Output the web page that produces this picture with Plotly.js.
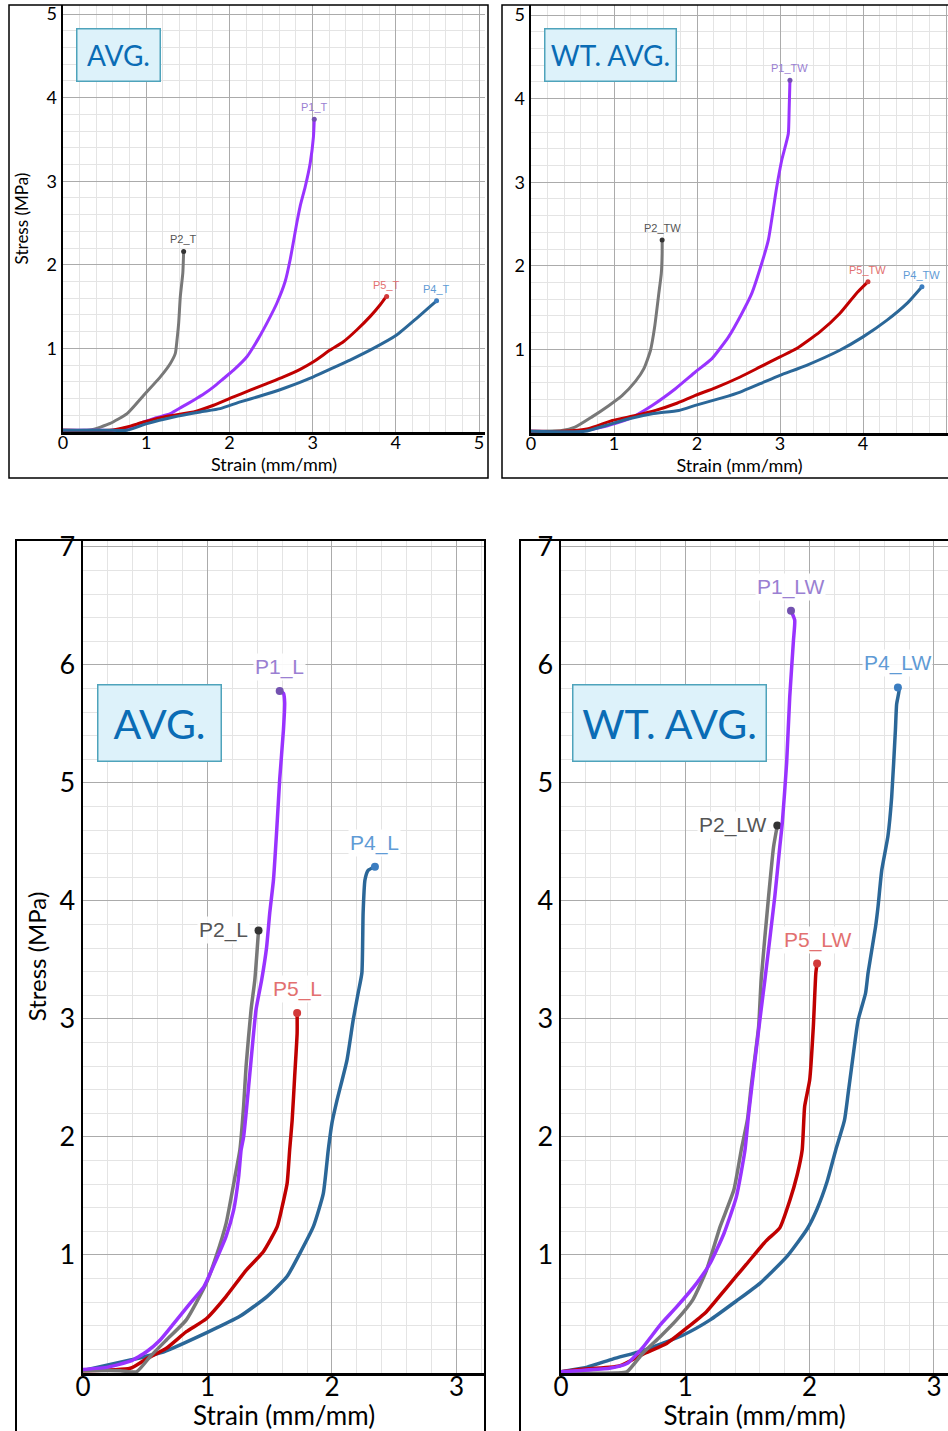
<!DOCTYPE html>
<html><head><meta charset="utf-8">
<script src="https://cdn.plot.ly/plotly-3.0.1.min.js"></script>
<style>html,body{margin:0;padding:0;background:#fff}#c{width:948px;height:1431px}</style>
</head><body><div id="c"></div>
<script>
// ---------- DATA: Transverse, average (top-left) ----------
const p1T_x = [0, 0.45, 0.60, 0.80, 0.97, 1.12, 1.29, 1.43, 1.57, 1.70, 1.81, 1.93, 2.05, 2.21, 2.35, 2.46, 2.57, 2.67, 2.73, 2.81, 2.85, 2.91, 2.97, 3.01, 3.02];
const p1T_y = [0.02, 0.02, 0.02, 0.06, 0.12, 0.17, 0.22, 0.30, 0.38, 0.46, 0.54, 0.64, 0.74, 0.90, 1.12, 1.32, 1.54, 1.80, 2.06, 2.50, 2.70, 2.93, 3.21, 3.53, 3.74];
const p2T_x = [0, 0.25, 0.36, 0.56, 0.77, 0.97, 1.17, 1.29, 1.35, 1.37, 1.39, 1.41, 1.44, 1.45];
const p2T_y = [0.02, 0.02, 0.03, 0.10, 0.22, 0.44, 0.66, 0.82, 0.94, 1.10, 1.30, 1.62, 1.90, 2.16];
const p5T_x = [0, 0.56, 0.77, 0.97, 1.25, 1.57, 1.81, 2.05, 2.25, 2.45, 2.65, 2.85, 3.01, 3.21, 3.37, 3.53, 3.69, 3.81, 3.87, 3.89];
const p5T_y = [0.02, 0.02, 0.06, 0.12, 0.19, 0.24, 0.32, 0.42, 0.50, 0.58, 0.66, 0.75, 0.84, 0.98, 1.08, 1.22, 1.38, 1.52, 1.60, 1.62];
const p4T_x = [0, 0.60, 0.77, 1.01, 1.33, 1.65, 1.89, 2.13, 2.37, 2.65, 3.01, 3.23, 3.45, 3.73, 4.01, 4.25, 4.41, 4.49];
const p4T_y = [0.02, 0.02, 0.02, 0.10, 0.18, 0.24, 0.28, 0.36, 0.43, 0.52, 0.66, 0.76, 0.86, 1.00, 1.16, 1.36, 1.50, 1.57];

// ---------- DATA: Transverse, weighted average (top-right) ----------
const p1TW_x = [0, 0.57, 0.86, 1.18, 1.46, 1.74, 1.98, 2.18, 2.38, 2.54, 2.66, 2.78, 2.86, 2.96, 3.02, 3.10, 3.11, 3.12];
const p1TW_y = [0.02, 0.02, 0.07, 0.17, 0.33, 0.53, 0.73, 0.89, 1.15, 1.43, 1.67, 2.03, 2.31, 2.94, 3.26, 3.58, 3.86, 4.22];
const p2TW_x = [0, 0.37, 0.53, 0.73, 0.94, 1.10, 1.26, 1.36, 1.44, 1.49, 1.54, 1.57, 1.58, 1.58];
const p2TW_y = [0.02, 0.03, 0.07, 0.19, 0.33, 0.45, 0.62, 0.77, 0.99, 1.27, 1.67, 1.91, 2.15, 2.31];
const p5TW_x = [0, 0.37, 0.69, 0.98, 1.26, 1.50, 1.74, 1.98, 2.22, 2.52, 2.76, 3.00, 3.20, 3.48, 3.72, 3.92, 4.04, 4.06];
const p5TW_y = [0.02, 0.02, 0.05, 0.15, 0.21, 0.27, 0.35, 0.45, 0.54, 0.67, 0.79, 0.91, 1.01, 1.21, 1.43, 1.67, 1.79, 1.81];
const p4TW_x = [0, 0.65, 0.90, 1.18, 1.46, 1.78, 1.98, 2.30, 2.52, 2.76, 3.00, 3.32, 3.72, 4.00, 4.29, 4.53, 4.71];
const p4TW_y = [0.02, 0.02, 0.09, 0.17, 0.23, 0.27, 0.33, 0.42, 0.49, 0.59, 0.69, 0.81, 0.99, 1.15, 1.35, 1.55, 1.75];

// ---------- DATA: Longitudinal, average (bottom-left) ----------
const p1L_x = [0, 0.20, 0.38, 0.51, 0.62, 0.73, 0.86, 0.97, 1.07, 1.15, 1.21, 1.25, 1.27, 1.29, 1.31, 1.35, 1.39, 1.435, 1.475, 1.50, 1.53, 1.556, 1.58, 1.61, 1.62, 1.61, 1.58];
const p1L_y = [0.03, 0.05, 0.10, 0.18, 0.28, 0.42, 0.59, 0.73, 0.96, 1.16, 1.38, 1.66, 1.89, 2.00, 2.20, 2.65, 3.08, 3.33, 3.61, 3.90, 4.18, 4.60, 5.03, 5.45, 5.68, 5.76, 5.78];
const p2L_x = [0, 0.30, 0.43, 0.54, 0.67, 0.83, 0.99, 1.07, 1.15, 1.22, 1.26, 1.29, 1.31, 1.35, 1.38, 1.41];
const p2L_y = [0.02, 0.02, 0.01, 0.14, 0.28, 0.45, 0.76, 0.99, 1.27, 1.66, 1.89, 2.26, 2.60, 3.08, 3.33, 3.75];
const p5L_x = [0, 0.38, 0.51, 0.67, 0.83, 0.99, 1.15, 1.31, 1.45, 1.56, 1.60, 1.64, 1.66, 1.68, 1.70, 1.72, 1.72];
const p5L_y = [0.02, 0.04, 0.12, 0.21, 0.35, 0.46, 0.65, 0.87, 1.03, 1.24, 1.41, 1.61, 1.89, 2.14, 2.51, 2.88, 3.05];
const p4L_x = [0, 0.38, 0.65, 0.99, 1.26, 1.48, 1.64, 1.74, 1.85, 1.93, 1.97, 2.00, 2.04, 2.12, 2.17, 2.21, 2.24, 2.25, 2.265, 2.29, 2.345];
const p4L_y = [0.02, 0.11, 0.18, 0.34, 0.48, 0.65, 0.82, 1.01, 1.24, 1.52, 1.89, 2.12, 2.31, 2.65, 2.99, 3.22, 3.39, 3.90, 4.18, 4.26, 4.29];

// ---------- DATA: Longitudinal, weighted average (bottom-right) ----------
const p1LW_x = [0, 0.13, 0.39, 0.53, 0.66, 0.80, 0.93, 1.09, 1.20, 1.31, 1.41, 1.48, 1.51, 1.56, 1.61, 1.64, 1.72, 1.76, 1.78, 1.815, 1.84, 1.87, 1.88, 1.85];
const p1LW_y = [0.01, 0.02, 0.04, 0.08, 0.22, 0.41, 0.56, 0.76, 0.93, 1.18, 1.49, 1.89, 2.20, 2.65, 3.08, 3.33, 4.04, 4.46, 4.66, 5.17, 5.73, 6.21, 6.38, 6.46];
const p2LW_x = [0, 0.45, 0.53, 0.66, 0.80, 0.93, 1.06, 1.17, 1.28, 1.39, 1.45, 1.50, 1.53, 1.59, 1.61, 1.67, 1.71, 1.74];
const p2LW_y = [0.0, 0.0, 0.01, 0.17, 0.31, 0.45, 0.62, 0.87, 1.24, 1.55, 1.89, 2.15, 2.43, 2.94, 3.33, 4.04, 4.46, 4.64];
const p5LW_x = [0, 0.15, 0.47, 0.66, 0.85, 1.01, 1.17, 1.33, 1.49, 1.65, 1.76, 1.84, 1.90, 1.94, 1.96, 2.00, 2.03, 2.05, 2.06];
const p5LW_y = [0.01, 0.03, 0.06, 0.16, 0.25, 0.38, 0.52, 0.72, 0.92, 1.12, 1.23, 1.46, 1.68, 1.89, 2.26, 2.48, 2.94, 3.39, 3.47];
const p4LW_x = [0, 0.05, 0.21, 0.42, 0.66, 0.98, 1.20, 1.41, 1.60, 1.82, 1.98, 2.06, 2.14, 2.21, 2.28, 2.31, 2.36, 2.39, 2.45, 2.47, 2.53, 2.55, 2.58, 2.63, 2.66, 2.69, 2.70, 2.72, 2.71];
const p4LW_y = [0.01, 0.02, 0.05, 0.12, 0.19, 0.32, 0.45, 0.61, 0.76, 0.99, 1.22, 1.39, 1.62, 1.89, 2.14, 2.37, 2.77, 2.99, 3.22, 3.39, 3.78, 3.95, 4.26, 4.55, 4.88, 5.45, 5.67, 5.79, 5.81];

// ---------- labels ----------
const panelTags = ["AVG.", "WT. AVG.", "AVG.", "WT. AVG."];
const xTitle = "Strain (mm/mm)";
const yTitle = "Stress (MPa)";
const topTicksX = [0, 1, 2, 3, 4, 5];
const topTicksY = [1, 2, 3, 4, 5];
const botTicksX = [0, 1, 2, 3];
const botTicksY = [1, 2, 3, 4, 5, 6, 7];

// ---------- styling ----------
const W = 948, H = 1431;
const fx = p => p / W, fy = p => 1 - p / H;
const COL = {
  p1: {line: '#9933ff', mk: '#7352b0', lab: '#9a80d2'},
  p2: {line: '#787878', mk: '#333333', lab: '#555555'},
  p5: {line: '#c00000', mk: '#d23a3a', lab: '#e27070'},
  p4: {line: '#2b6798', mk: '#3b7dc0', lab: '#5f9bd5'}
};
const FONT = 'Lato, "Open Sans", sans-serif';
const LFONT = '"Liberation Sans", Arial, sans-serif';

const series = [
  [p2T_x, p2T_y, 'p2', 'P2_T', 1, 'top'],
  [p1T_x, p1T_y, 'p1', 'P1_T', 1, 'top'],
  [p5T_x, p5T_y, 'p5', 'P5_T', 1, 'top'],
  [p4T_x, p4T_y, 'p4', 'P4_T', 1, 'top'],
  [p2TW_x, p2TW_y, 'p2', 'P2_TW', 2, 'top'],
  [p1TW_x, p1TW_y, 'p1', 'P1_TW', 2, 'top'],
  [p5TW_x, p5TW_y, 'p5', 'P5_TW', 2, 'top'],
  [p4TW_x, p4TW_y, 'p4', 'P4_TW', 2, 'top'],
  [p4L_x, p4L_y, 'p4', 'P4_L', 3, 'top'],
  [p5L_x, p5L_y, 'p5', 'P5_L', 3, 'top'],
  [p2L_x, p2L_y, 'p2', 'P2_L', 3, 'left'],
  [p1L_x, p1L_y, 'p1', 'P1_L', 3, 'top'],
  [p4LW_x, p4LW_y, 'p4', 'P4_LW', 4, 'top'],
  [p5LW_x, p5LW_y, 'p5', 'P5_LW', 4, 'top'],
  [p2LW_x, p2LW_y, 'p2', 'P2_LW', 4, 'left'],
  [p1LW_x, p1LW_y, 'p1', 'P1_LW', 4, 'top']
];

const traces = [];
const annotations = [];
series.forEach(([xs, ys, key, name, ai, mode]) => {
  const big = ai >= 3;
  const xa = ai === 1 ? 'x' : 'x' + ai, ya = ai === 1 ? 'y' : 'y' + ai;
  traces.push({x: xs, y: ys, xaxis: xa, yaxis: ya, mode: 'lines', name: name,
    line: {color: COL[key].line, width: big ? 3.5 : 3, shape: 'spline', smoothing: 0.5},
    hoverinfo: 'skip', showlegend: false});
  const lx = xs[xs.length - 1], ly = ys[ys.length - 1];
  traces.push({x: [lx], y: [ly], xaxis: xa, yaxis: ya, mode: 'markers',
    marker: {color: COL[key].mk, size: big ? 8 : 5}, hoverinfo: 'skip', showlegend: false});
  const ann = {x: lx, y: ly, xref: xa, yref: ya, text: name, showarrow: false,
    font: {family: LFONT, size: big ? 21 : 11, color: COL[key].lab}};
  if (big) ann.bgcolor = 'rgba(255,255,255,0.9)';
  if (mode === 'top') { ann.xanchor = 'center'; ann.yanchor = 'bottom'; ann.yshift = big ? 10 : 4; }
  else { ann.xanchor = 'right'; ann.yanchor = 'middle'; ann.xshift = -9; }
  annotations.push(ann);
});

// panel tag boxes
const tagBoxes = [
  {cx: 118, cy: 55, w: 86, h: 55, s: 28},
  {cx: 610, cy: 55, w: 134, h: 55, s: 28},
  {cx: 159, cy: 723, w: 126, h: 79, s: 41},
  {cx: 669, cy: 723, w: 196, h: 79, s: 41}
];
tagBoxes.forEach((b, i) => {
  annotations.push({xref: 'paper', yref: 'paper', x: fx(b.cx), y: fy(b.cy), xanchor: 'center', yanchor: 'middle',
    text: panelTags[i], showarrow: false, width: b.w - 4, height: b.h - 4,
    bgcolor: '#ddf2fa', bordercolor: '#4ea3bb', borderwidth: 1.5, borderpad: 0,
    font: {family: FONT, size: b.s, color: '#0a6cb5'}});
});

function xAxis(d0, d1, range, ticks, yA, fs, lso, title, tfs, standoff) {
  return {domain: [fx(d0), fx(d1)], range: range, anchor: yA, tickvals: ticks, ticktext: ticks.map(String),
    showgrid: true, gridcolor: '#ababab', gridwidth: 1,
    minor: {dtick: 0.2, showgrid: true, gridcolor: '#e4e4e4', gridwidth: 1},
    zeroline: false, showline: true, linecolor: '#000', linewidth: 2.5, ticks: '',
    ticklabelstandoff: lso,
    tickfont: {family: FONT, size: fs, color: '#000'},
    title: {text: title, font: {family: FONT, size: tfs, color: '#000'}, standoff: standoff},
    fixedrange: true};
}
function yAxis(d0, d1, range, ticks, xA, fs, title, tfs, standoff) {
  return {domain: [fy(d1), fy(d0)], range: range, anchor: xA, tickvals: ticks, ticktext: ticks.map(String),
    showgrid: true, gridcolor: '#ababab', gridwidth: 1,
    minor: {dtick: 0.2, showgrid: true, gridcolor: '#e4e4e4', gridwidth: 1},
    zeroline: false, showline: true, linecolor: '#000', linewidth: 2.5, ticks: '',
    tickfont: {family: FONT, size: fs, color: '#000'},
    title: {text: title, font: {family: FONT, size: tfs, color: '#000'}, standoff: standoff},
    fixedrange: true};
}

const layout = {
  width: W, height: H, margin: {l: 0, r: 0, t: 0, b: 0},
  paper_bgcolor: '#fff', plot_bgcolor: '#fff', showlegend: false,
  xaxis:  xAxis(63, 485, [0, 5.072], topTicksX, 'y', 18, -7, xTitle, 18, 2),
  yaxis:  yAxis(5, 432, [0, 5.108], topTicksY, 'x', 18, yTitle, 17, 14),
  xaxis2: xAxis(531, 948, [0, 5.024], topTicksX, 'y2', 18, -7, xTitle, 18, 2),
  yaxis2: yAxis(5, 433, [0, 5.12], topTicksY, 'x2', 18, '', 17, 12),
  xaxis3: xAxis(83, 485, [0, 3.229], botTicksX, 'y3', 26, -11, xTitle, 26, 12),
  yaxis3: yAxis(540, 1373, [0, 7.059], botTicksY, 'x3', 27, yTitle, 24, 6),
  xaxis4: xAxis(561, 948, [0, 3.113], botTicksX, 'y4', 26, -11, xTitle, 26, 12),
  yaxis4: yAxis(540, 1373, [0, 7.059], botTicksY, 'x4', 27, '', 24, 10),
  annotations: annotations,
  shapes: [
    {type: 'rect', xref: 'paper', yref: 'paper', x0: fx(9), x1: fx(488), y0: fy(478), y1: fy(5), line: {color: '#000', width: 1.5}, layer: 'above'},
    {type: 'rect', xref: 'paper', yref: 'paper', x0: fx(502), x1: fx(960), y0: fy(478), y1: fy(5), line: {color: '#000', width: 1.5}, layer: 'above'},
    {type: 'rect', xref: 'paper', yref: 'paper', x0: fx(16), x1: fx(485), y0: fy(1445), y1: fy(540), line: {color: '#000', width: 2}, layer: 'above'},
    {type: 'rect', xref: 'paper', yref: 'paper', x0: fx(520), x1: fx(960), y0: fy(1445), y1: fy(540), line: {color: '#000', width: 2}, layer: 'above'}
  ]
};

Plotly.newPlot('c', traces, layout, {staticPlot: true, displayModeBar: false});
</script></body></html>
